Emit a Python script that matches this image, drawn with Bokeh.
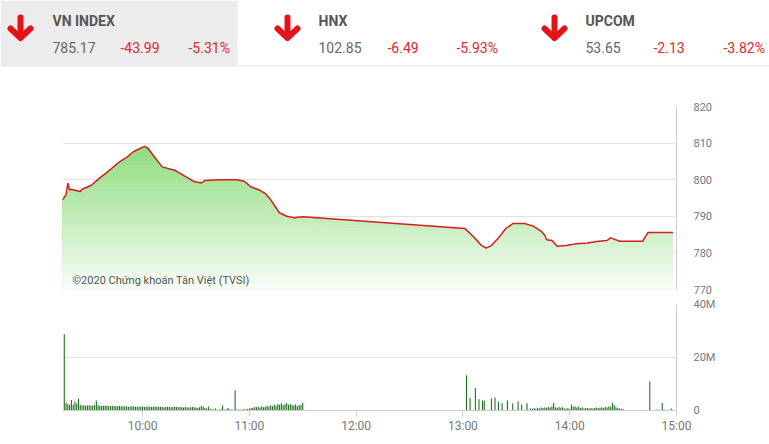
import numpy as np
from bokeh.plotting import figure
from bokeh.layouts import column
from bokeh.models import Range1d, FixedTicker, Label
from bokeh.core.properties import value
from bokeh.embed import file_html
from bokeh.resources import INLINE


def tmin(s):
    h, m = s.split(":")
    return int(h) * 60 + int(m)


# ---------------- data ----------------
idx_names = ["VN INDEX", "HNX", "UPCOM"]
idx_values = ["785.17", "102.85", "53.65"]
idx_changes = ["-43.99", "-6.49", "-2.13"]
idx_pcts = ["-5.31%", "-5.93%", "-3.82%"]

price_times = ["9:15", "9:17", "9:18", "9:19", "9:20", "9:23", "9:25", "9:26", "9:31", "9:36",
               "9:41", "9:46", "9:51", "9:55", "9:58", "10:01", "10:03", "10:07", "10:11", "10:18",
               "10:24", "10:29", "10:33", "10:35", "10:40", "10:46", "10:53", "10:57", "11:01", "11:06",
               "11:09", "11:12", "11:17", "11:21", "11:25", "11:30", "13:01", "13:06", "13:10", "13:13",
               "13:16", "13:20", "13:24", "13:28", "13:35", "13:40", "13:44", "13:46", "13:47", "13:50",
               "13:53", "13:58", "14:04", "14:10", "14:15", "14:21", "14:23", "14:28", "14:41", "14:44",
               "14:58"]
price_vals = [794.5, 795.9, 799.1, 797.2, 797.4, 797.0, 796.8, 797.4, 798.4, 800.5,
              802.4, 804.5, 806.1, 807.7, 808.4, 809.1, 808.6, 806.0, 803.5, 802.6,
              800.9, 799.5, 799.1, 799.8, 799.9, 800.0, 800.0, 799.6, 798.0, 797.1,
              796.2, 794.5, 790.9, 790.0, 789.6, 789.9, 786.7, 784.4, 782.2, 781.3,
              782.0, 784.1, 786.6, 788.0, 788.0, 787.2, 785.9, 784.8, 783.6, 783.4,
              781.8, 782.0, 782.5, 782.7, 783.1, 783.4, 784.1, 783.2, 783.2, 785.6,
              785.6]

# morning volume (millions), one bar per minute starting 9:16
am_start = "9:16"
am_volumes = [28.8, 2.9, 2.5, 2.1, 4.0, 2.2, 3.4, 2.6, 4.4, 2.2,
              1.9, 2.0, 1.8, 1.9, 2.0, 1.8, 1.9, 2.0,
              3.8,
              2.0, 1.8, 1.7, 1.8, 1.9, 1.8, 1.7, 1.6, 1.8, 1.7, 1.6,
              1.6, 1.7, 1.5, 1.6, 1.5, 1.6, 1.4, 1.5, 1.6, 1.5, 1.4, 1.5, 1.4, 1.5,
              1.5, 1.3, 1.4, 1.5, 1.4, 1.3, 1.4, 1.5, 1.3, 1.4, 1.3, 1.4, 1.2, 1.3, 1.4, 1.3,
              1.2, 1.3, 1.4, 1.3, 1.2, 1.3, 1.2, 1.1, 1.3, 1.2, 1.1, 1.2, 1.3, 1.2, 1.1,
              0.9, 1.2, 1.7, 1.4, 1.0, 0.8, 1.5, 0.7, 0.5, 0.4, 0.8, 0.3, 0.2, 0.6, 1.9,
              0.3, 0.5, 0.9, 0.4, 0.3, 0.3, 7.6,
              0.4, 0.4, 0.3, 0.4, 0.5, 0.4, 0.6, 0.8,
              0.9, 1.0, 1.3, 1.2, 1.4, 1.1, 1.6, 1.2, 1.4, 1.8, 1.5, 2.0, 1.6, 2.3, 1.8,
              2.5, 2.2, 2.6, 2.0, 2.4, 2.8, 2.2, 2.5, 2.1, 1.9, 2.4, 1.6, 2.0, 2.2, 2.8]

pm_times = ["13:02", "13:04", "13:07", "13:09", "13:11", "13:12", "13:16", "13:18", "13:20", "13:22",
            "13:25", "13:28", "13:31", "13:33", "13:36",
            "13:38", "13:39", "13:40", "13:41", "13:42", "13:43", "13:44", "13:45", "13:46", "13:47",
            "13:48", "13:49", "13:50", "13:51", "13:52", "13:53", "13:54", "13:55", "13:56", "13:57",
            "13:58", "13:59", "14:00", "14:01", "14:02", "14:03", "14:04", "14:05", "14:06", "14:07",
            "14:08", "14:09", "14:10", "14:11", "14:12", "14:13", "14:14", "14:15", "14:16", "14:17",
            "14:18", "14:19", "14:20", "14:21", "14:22", "14:23", "14:24", "14:25", "14:26", "14:27",
            "14:28", "14:29", "14:30",
            "14:33", "14:35", "14:37", "14:41", "14:45", "14:49", "14:52", "14:53", "14:57", "14:58"]
pm_volumes = [13.3, 4.7, 8.5, 4.2, 3.8, 3.8, 4.5, 4.9, 3.4, 2.8,
              3.8, 2.7, 3.4, 2.3, 2.7,
              0.8, 0.6, 0.9, 0.7, 1.0, 0.8, 1.1, 0.9, 1.2, 1.0,
              1.3, 1.1, 1.5, 2.9, 1.2, 0.9, 1.4, 1.0, 1.2, 0.8,
              0.7, 0.9, 0.6, 2.3, 1.3, 1.6, 1.1, 1.5, 0.9, 1.2,
              0.8, 1.0, 0.9, 0.8, 0.9, 0.8, 0.9, 1.1, 0.9, 1.0,
              1.2, 0.9, 1.3, 1.1, 1.6, 1.4, 3.0, 2.2, 1.2, 0.9,
              0.8, 0.7, 0.6,
              0.2, 0.2, 0.2, 0.2, 11.0, 0.4, 2.8, 0.3, 0.8, 0.3]

price_ticks = [770, 780, 790, 800, 810, 820]
vol_ticks = [0, 20, 40]
vol_tick_labels = ["0", "20M", "40M"]
hour_labels = ["10:00", "11:00", "12:00", "13:00", "14:00", "15:00"]
x_start, x_end = "9:15", "15:00"
watermark = "©2020 Chứng khoán Tân Việt (TVSI)"

# ---------------- styles ----------------
FONT = "Roboto"
RED = "#e0262d"
ARROW_RED = "#e5121b"
GRAY_TXT = "#666666"
LABEL_GRAY = "#777777"
GRID = "#e3e3e3"
BORDER = "#cccccc"
W = 769

xr0, xr1 = tmin(x_start), tmin(x_end)

# ---------------- header (own root, page pixel coordinates) ----------------
h = figure(width=W, height=98, x_range=Range1d(0, W), y_range=Range1d(98, 0),
           output_backend="svg", toolbar_location=None, min_border=0)
h.axis.visible = False
h.grid.visible = False
h.outline_line_color = None
h.background_fill_color = "white"
h.quad(left=[0], right=[237], top=[0], bottom=[65], fill_color="#ececec", line_color=None)
h.segment(x0=[0], y0=[65.5], x1=[W], y1=[65.5], line_color="#e2e2e2", line_width=1)

arrow_x = [20, 287, 554]
name_x = [52, 318, 585]
chg_x = [120, 387, 653]
pct_x = [188, 456, 723]
for i in range(3):
    cx = arrow_x[i]
    h.line([cx, cx], [17, 35], line_color=ARROW_RED, line_width=6, line_cap="round")
    h.line([cx - 10, cx, cx + 10], [28, 37.5, 28], line_color=ARROW_RED, line_width=6,
           line_cap="round", line_join="round")
h.text(x=name_x, y=[20] * 3, text=idx_names, text_font=value(FONT), text_font_style="bold",
       text_font_size="14px", text_color="#555555", text_baseline="middle")
h.text(x=name_x, y=[47] * 3, text=idx_values, text_font=value(FONT),
       text_font_size="14px", text_color=GRAY_TXT, text_baseline="middle")
h.text(x=chg_x, y=[47] * 3, text=idx_changes, text_font=value(FONT),
       text_font_size="14px", text_color=RED, text_baseline="middle")
h.text(x=pct_x, y=[47] * 3, text=idx_pcts, text_font=value(FONT),
       text_font_size="14px", text_color=RED, text_baseline="middle")

# ---------------- price chart ----------------
px = np.array([tmin(t) for t in price_times], dtype=float)
py = np.array(price_vals)

p = figure(width=W, height=199, x_range=Range1d(xr0, xr1), y_range=Range1d(770, 820),
           output_backend="svg", toolbar_location=None, y_axis_location="right",
           min_border_left=62, min_border_right=93, min_border_top=8, min_border_bottom=8)
p.xaxis.visible = False
p.xgrid.visible = False
p.outline_line_color = None
p.ygrid.grid_line_color = GRID
p.ygrid.ticker = FixedTicker(ticks=price_ticks)
p.yaxis.ticker = FixedTicker(ticks=price_ticks)
p.yaxis.axis_line_color = BORDER
p.yaxis.major_tick_line_color = None
p.yaxis.minor_tick_line_color = None
p.yaxis.major_label_standoff = 11
p.yaxis.major_label_text_font = FONT
p.yaxis.major_label_text_font_size = "11px"
p.yaxis.major_label_text_color = LABEL_GRAY

top_c = np.array([115, 212, 95])
bot_c = np.array([248, 253, 247])
for k in range(50):
    top_k = 820 - k
    t = k / 49.0
    c = (top_c + (bot_c - top_c) * t).astype(int)
    col = "#%02x%02x%02x" % tuple(c)
    p.varea(x=px, y1=np.full_like(py, 770.0), y2=np.minimum(py, top_k), fill_color=col)
p.line(px, py, line_color="#d41f1f", line_width=1.5)

p.add_layout(Label(x=xr0 + 5.6, y=772.5, text=watermark, text_font=FONT, text_font_size="11px",
                   text_color="#555555", text_baseline="middle"))

# ---------------- volume chart ----------------
am0 = tmin(am_start)
vx = [am0 + i for i in range(len(am_volumes))] + [tmin(t) for t in pm_times]
vy = list(am_volumes) + list(pm_volumes)

v = figure(width=W, height=147, x_range=Range1d(xr0, xr1), y_range=Range1d(0, 40),
           output_backend="svg", toolbar_location=None, y_axis_location="right",
           min_border_left=62, min_border_right=93, min_border_top=7, min_border_bottom=34)
v.outline_line_color = None
v.xgrid.visible = False
v.ygrid.grid_line_color = GRID
v.ygrid.ticker = FixedTicker(ticks=vol_ticks)
v.yaxis.ticker = FixedTicker(ticks=vol_ticks)
v.yaxis.major_label_overrides = {t: l for t, l in zip(vol_ticks, vol_tick_labels)}
v.yaxis.axis_line_color = BORDER
v.yaxis.major_tick_line_color = None
v.yaxis.minor_tick_line_color = None
v.yaxis.major_label_standoff = 11
v.yaxis.major_label_text_font = FONT
v.yaxis.major_label_text_font_size = "11px"
v.yaxis.major_label_text_color = LABEL_GRAY

hour_ticks = [tmin(s) for s in hour_labels]
v.xaxis.ticker = FixedTicker(ticks=hour_ticks)
v.xaxis.major_label_overrides = {t: l for t, l in zip(hour_ticks, hour_labels)}
v.xaxis.axis_line_color = BORDER
v.xaxis.major_tick_line_color = BORDER
v.xaxis.major_tick_in = 0
v.xaxis.major_tick_out = 6
v.xaxis.minor_tick_line_color = None
v.xaxis.major_label_standoff = 2
v.xaxis.major_label_text_font = FONT
v.xaxis.major_label_text_font_size = "12px"
v.xaxis.major_label_text_color = LABEL_GRAY

v.vbar(x=vx, top=vy, bottom=0, width=0.6, fill_color="#1a6e1a", line_color=None)

charts = column(p, v, spacing=0)
open("out.html", "w").write(file_html([h, charts], INLINE))
